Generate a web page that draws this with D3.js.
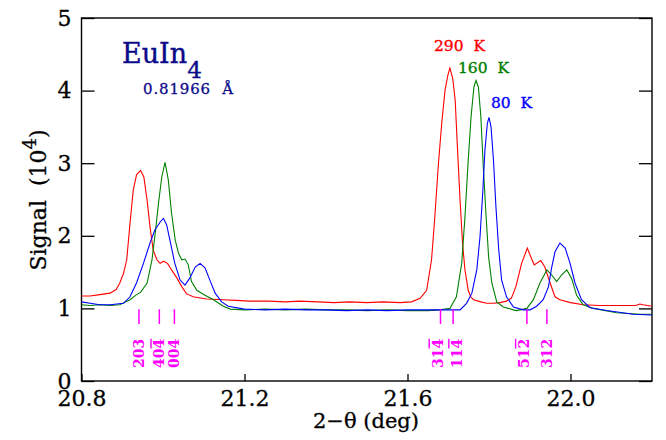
<!DOCTYPE html>
<html>
<head>
<meta charset="utf-8">
<script src="https://cdn.jsdelivr.net/npm/d3@7"></script>
<style>
  html, body { margin: 0; padding: 0; background: #fff; }
  svg { display: block; }
  text { font-family: "DejaVu Serif", "Liberation Serif", serif; }
</style>
</head>
<body>
<svg id="chart" width="666" height="440"></svg>
<script>
// 2-theta (deg) and signal (10^4 counts) for each temperature
const red290 = [
  [20.800,1.17],[20.821,1.17],[20.845,1.19],[20.870,1.21],[20.885,1.26],[20.894,1.35],
  [20.903,1.48],[20.911,1.67],[20.919,2.17],[20.927,2.63],[20.935,2.84],[20.945,2.90],
  [20.953,2.81],[20.961,2.49],[20.968,2.13],[20.976,1.80],[20.985,1.67],[20.993,1.62],
  [21.001,1.65],[21.011,1.62],[21.021,1.53],[21.034,1.42],[21.046,1.30],[21.058,1.20],
  [21.074,1.16],[21.107,1.13],[21.148,1.12],[21.180,1.11],[21.213,1.10],[21.260,1.10],
  [21.300,1.09],[21.336,1.10],[21.380,1.09],[21.420,1.08],[21.458,1.09],[21.500,1.08],
  [21.540,1.09],[21.582,1.08],[21.610,1.09],[21.631,1.14],[21.647,1.25],[21.659,1.67],
  [21.667,2.26],[21.676,3.00],[21.684,3.55],[21.692,4.00],[21.699,4.21],[21.704,4.31],
  [21.711,4.17],[21.717,3.87],[21.722,3.28],[21.729,2.49],[21.735,1.90],[21.741,1.53],
  [21.749,1.25],[21.755,1.16],[21.762,1.12],[21.780,1.09],[21.794,1.07],[21.810,1.07],
  [21.827,1.08],[21.843,1.10],[21.855,1.14],[21.866,1.30],[21.880,1.62],[21.894,1.83],
  [21.904,1.69],[21.911,1.60],[21.927,1.66],[21.937,1.57],[21.950,1.35],[21.962,1.16],
  [21.974,1.12],[22.000,1.08],[22.031,1.05],[22.072,1.04],[22.121,1.04],[22.160,1.04],
  [22.170,1.06],[22.178,1.05],[22.200,1.03]
];
const green160 = [
  [20.800,1.05],[20.821,1.04],[20.845,1.05],[20.870,1.04],[20.894,1.05],[20.911,1.10],
  [20.919,1.12],[20.935,1.19],[20.945,1.22],[20.961,1.35],[20.973,1.67],[20.981,2.04],
  [20.989,2.45],[20.997,2.81],[21.005,3.01],[21.013,2.77],[21.021,2.31],[21.030,1.94],
  [21.038,1.76],[21.046,1.67],[21.054,1.68],[21.062,1.60],[21.070,1.37],[21.083,1.25],
  [21.103,1.18],[21.124,1.12],[21.148,1.03],[21.165,0.99],[21.200,0.98],[21.250,0.99],
  [21.300,0.98],[21.350,0.99],[21.400,0.98],[21.450,0.98],[21.500,0.97],[21.550,0.98],
  [21.600,0.97],[21.650,0.97],[21.680,0.98],[21.704,1.00],[21.720,1.16],[21.733,1.62],
  [21.741,2.26],[21.749,3.04],[21.756,3.64],[21.763,4.05],[21.768,4.14],[21.774,4.05],
  [21.780,3.64],[21.786,2.95],[21.793,2.26],[21.799,1.71],[21.807,1.35],[21.819,1.09],
  [21.835,1.02],[21.860,0.98],[21.868,0.97],[21.893,1.00],[21.909,1.12],[21.925,1.35],
  [21.942,1.53],[21.954,1.46],[21.966,1.37],[21.978,1.46],[21.991,1.53],[22.003,1.41],
  [22.015,1.18],[22.031,1.05],[22.056,1.00],[22.113,0.94],[22.171,0.92],[22.200,0.92]
];
const blue80 = [
  [20.800,1.09],[20.821,1.07],[20.845,1.05],[20.870,1.05],[20.903,1.07],[20.919,1.16],
  [20.935,1.35],[20.952,1.62],[20.968,1.90],[20.980,2.08],[20.993,2.19],[21.001,2.24],
  [21.009,2.15],[21.017,1.94],[21.029,1.62],[21.042,1.39],[21.054,1.32],[21.066,1.42],
  [21.079,1.57],[21.091,1.62],[21.103,1.56],[21.115,1.39],[21.128,1.21],[21.144,1.09],
  [21.160,1.03],[21.200,0.99],[21.250,0.98],[21.300,0.99],[21.350,0.98],[21.400,0.98],
  [21.450,0.97],[21.500,0.98],[21.550,0.97],[21.600,0.98],[21.650,0.98],[21.700,0.98],
  [21.729,0.98],[21.745,1.07],[21.758,1.21],[21.770,1.53],[21.778,1.99],[21.785,2.63],
  [21.790,3.18],[21.796,3.55],[21.800,3.63],[21.805,3.50],[21.811,3.04],[21.817,2.40],
  [21.824,1.80],[21.831,1.39],[21.843,1.16],[21.860,1.02],[21.884,0.98],[21.901,0.98],
  [21.917,1.03],[21.933,1.12],[21.946,1.30],[21.954,1.57],[21.962,1.78],[21.974,1.90],
  [21.987,1.83],[21.999,1.62],[22.011,1.35],[22.027,1.12],[22.048,1.01],[22.089,0.97],
  [22.154,0.92],[22.200,0.91]
];

const seriesNames = ["290  K", "160  K", "80  K"];
const seriesColors = ["#ff0000", "#008000", "#0000ff"];

// Bragg reflection positions and their (h k l) labels; "|" marks a barred index
const braggPos = [20.941, 20.991, 21.028, 21.681, 21.712, 21.893, 21.942];
const braggLabels = ["203", "40|4", "004", "31|4", "11|4", "51|2", "312"];

const xTicks = [20.8, 21.2, 21.6, 22.0];
const yTicks = [0, 1, 2, 3, 4, 5];

const svg = d3.select("#chart");
const frame = { l: 81.5, r: 652, t: 18, b: 381 };
// sideways shift (px) of crowded reflection labels
const labelShift = [0, 0, 0, -3, 4, -3, 0];

const x = d3.scaleLinear().domain([20.8, 22.2]).range([frame.l, frame.r]);
const y = d3.scaleLinear().domain([0, 5]).range([frame.b, frame.t]);

svg.append("defs").append("clipPath").attr("id", "plotclip")
  .append("rect").attr("x", frame.l).attr("y", frame.t)
  .attr("width", frame.r - frame.l).attr("height", frame.b - frame.t);

// Axes with inward ticks
const gx = svg.append("g").attr("transform", `translate(0,${frame.b})`)
  .call(d3.axisBottom(x).tickValues(xTicks).tickSize(-7).tickPadding(9)
    .tickFormat(d3.format(".1f")));
const gy = svg.append("g").attr("transform", `translate(${frame.l},0)`)
  .call(d3.axisLeft(y).tickValues(yTicks).tickSize(-13).tickPadding(10)
    .tickFormat(d3.format("d")));
const gr = svg.append("g").attr("transform", `translate(${frame.r},0)`)
  .call(d3.axisRight(y).tickValues(yTicks).tickSize(-13).tickFormat(""));

[gx, gy, gr].forEach(g => {
  g.select(".domain").remove();
  g.selectAll(".tick line").attr("stroke", "#000").attr("stroke-width", 1.3);
  g.selectAll(".tick text").attr("fill", "#000")
    .attr("stroke", "#000").attr("stroke-width", 0.3)
    .style("font-family", '"DejaVu Serif", serif').style("font-size", "22px");
});

svg.append("rect").attr("x", frame.l).attr("y", frame.t)
  .attr("width", frame.r - frame.l).attr("height", frame.b - frame.t)
  .attr("fill", "none").attr("stroke", "#000").attr("stroke-width", 1.4);

// Data curves
const line = d3.line().x(d => x(d[0])).y(d => y(d[1]));
const plot = svg.append("g").attr("clip-path", "url(#plotclip)");
[red290, green160, blue80].forEach((s, i) => {
  plot.append("path").datum(s).attr("d", line)
    .attr("fill", "none").attr("stroke", seriesColors[i]).attr("stroke-width", 1.1);
});

// Bragg markers
const magenta = "#ff00ff";
plot.selectAll(".bragg").data(braggPos).enter().append("line")
  .attr("x1", d => x(d)).attr("x2", d => x(d))
  .attr("y1", y(0.99)).attr("y2", y(0.785))
  .attr("stroke", magenta).attr("stroke-width", 1.5);

braggLabels.forEach((lab, i) => {
  const t = svg.append("text")
    .attr("transform", `translate(${x(braggPos[i]) + 5 + labelShift[i]},368) rotate(-90)`)
    .attr("fill", magenta).style("font-size", "14px").style("font-weight", "bold");
  const parts = lab.split("|");
  t.append("tspan").text(parts[0]);
  if (parts.length > 1) {
    t.append("tspan").style("text-decoration", "overline").text(parts[1]);
  }
});

// Temperature labels
const legendPos = [[434, 51], [458, 73], [491, 108]];
seriesNames.forEach((n, i) => {
  svg.append("text").attr("x", legendPos[i][0]).attr("y", legendPos[i][1])
    .attr("fill", seriesColors[i]).attr("stroke", seriesColors[i]).attr("stroke-width", 0.35)
    .style("font-size", "15.5px").style("white-space", "pre").text(n);
});

// Compound and wavelength
const navy = "#0b0b8a";
const title = svg.append("text").attr("x", 122).attr("y", 63).attr("fill", navy)
  .attr("stroke", navy).attr("stroke-width", 0.4).style("font-size", "27px");
title.append("tspan").text("EuIn");
title.append("tspan").attr("dy", 15).style("font-size", "23px").text("4");
svg.append("text").attr("x", 143).attr("y", 94).attr("fill", navy)
  .attr("stroke", navy).attr("stroke-width", 0.3)
  .attr("textLength", 90).attr("lengthAdjust", "spacing")
  .style("font-size", "15px").style("white-space", "pre").text("0.81966  \u00c5");

// Axis titles
svg.append("text").attr("x", 366).attr("y", 428).attr("text-anchor", "middle")
  .attr("stroke", "#000").attr("stroke-width", 0.3)
  .style("font-size", "21px").text("2\u2212\u03b8 (deg)");
const yl = svg.append("text").attr("transform", "translate(46,200) rotate(-90)")
  .attr("stroke", "#000").attr("stroke-width", 0.3)
  .attr("text-anchor", "middle").style("font-size", "22px").style("white-space", "pre");
yl.append("tspan").text("Signal  (10");
yl.append("tspan").attr("dy", -10).style("font-size", "18px").text("4");
yl.append("tspan").attr("dy", 10).text(")");
</script>
</body>
</html>
